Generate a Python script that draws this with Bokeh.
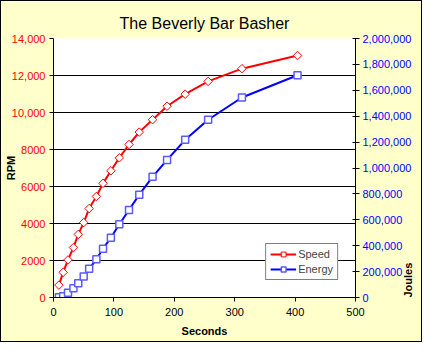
import math
from bokeh.plotting import figure
from bokeh.models import (Range1d, LinearAxis, FixedTicker, NumeralTickFormatter,
                          Legend, LegendItem)
from bokeh.embed import file_html
from bokeh.resources import INLINE

# ---- data ----
seconds = [9, 16, 24, 33, 41, 50, 59, 71, 82, 95, 109, 125, 142, 164, 188, 218, 256, 312, 404]
speed_rpm = [670, 1360, 2030, 2700, 3410, 4050, 4810, 5460, 6170, 6850, 7550, 8270,
             8940, 9610, 10340, 10990, 11680, 12370, 13080]
energy_joules = [1500, 9600, 36900, 70800, 110700, 162400, 221400, 295200, 376400, 462000,
                 565300, 676000, 794000, 932000, 1062700, 1217700, 1372700, 1544600, 1716600]

x_ticks = [0, 100, 200, 300, 400, 500]
rpm_ticks = [0, 2000, 4000, 6000, 8000, 10000, 12000, 14000]
rpm_tick_labels = ["0", "2000", "4000", "6000", "8000", "10,000", "12,000", "14,000"]
joule_ticks = [0, 200000, 400000, 600000, 800000, 1000000, 1200000, 1400000,
               1600000, 1800000, 2000000]

title_text = "The Beverly Bar Basher"
series_names = ["Speed", "Energy"]

FONT = "Liberation Sans"
BG = "#FFFFCC"

p = figure(width=422, height=342, output_backend="svg", toolbar_location=None,
           x_range=Range1d(0, 500), y_range=Range1d(0, 14000),
           min_border_left=46, min_border_right=56, min_border_top=37, min_border_bottom=46,
           background_fill_color="white", border_fill_color=BG,
           styles={"border": "1px solid black"})
p.outline_line_color = None
p.extra_y_ranges = {"energy": Range1d(0, 2000000)}

# title
p.title.text = title_text
p.title.align = "center"
p.title.text_font = FONT
p.title.text_font_size = "16px"
p.title.text_font_style = "normal"
p.title.text_color = "black"
p.title.standoff = 14

# grid
p.xgrid.visible = False
p.ygrid.ticker = FixedTicker(ticks=rpm_ticks)
p.ygrid.grid_line_color = "black"
p.ygrid.grid_line_alpha = 1.0
p.ygrid.grid_line_width = 1

# bottom axis
xa = p.xaxis[0]
xa.ticker = FixedTicker(ticks=x_ticks)
xa.axis_label = "Seconds"
xa.axis_label_text_font = FONT
xa.axis_label_text_font_size = "11px"
xa.axis_label_text_font_style = "bold"
xa.axis_label_text_color = "black"
xa.axis_label_standoff = 6
xa.major_label_text_font = FONT
xa.major_label_text_font_size = "11px"
xa.major_label_text_color = "black"
xa.major_label_standoff = 6
xa.major_tick_in = 0
xa.major_tick_out = 4
xa.minor_tick_line_color = None
xa.axis_line_color = "black"
xa.major_tick_line_color = "black"

# left axis
ya = p.yaxis[0]
ya.ticker = FixedTicker(ticks=rpm_ticks)
ya.major_label_overrides = {t: s for t, s in zip(rpm_ticks, rpm_tick_labels)}
ya.axis_label = "RPM"
ya.axis_label_text_font = FONT
ya.axis_label_text_font_size = "11px"
ya.axis_label_text_font_style = "bold"
ya.axis_label_text_color = "black"
ya.axis_label_standoff = -8
ya.major_label_text_font = FONT
ya.major_label_text_font_size = "11px"
ya.major_label_text_color = "#FF0000"
ya.major_label_standoff = 4
ya.major_tick_in = 0
ya.major_tick_out = 4
ya.minor_tick_line_color = None
ya.axis_line_color = "black"
ya.major_tick_line_color = "black"

# right axis
ra = LinearAxis(y_range_name="energy", ticker=FixedTicker(ticks=joule_ticks),
                formatter=NumeralTickFormatter(format="0,0"))
ra.major_label_text_font = FONT
ra.major_label_text_font_size = "11px"
ra.major_label_text_color = "#0000FF"
ra.major_label_standoff = 3
ra.major_tick_in = 3
ra.major_tick_out = 4
ra.minor_tick_line_color = None
ra.axis_line_color = "black"
ra.major_tick_line_color = "black"
ra.axis_label = "Joules"
ra.axis_label_text_font = FONT
ra.axis_label_text_font_size = "11px"
ra.axis_label_text_font_style = "bold"
ra.axis_label_text_color = "black"
ra.axis_label_standoff = -6
_props = ra.properties()
if "axis_label_orientation" in _props:
    ra.axis_label_orientation = math.pi / 2
if "axis_label_align" in _props:
    ra.axis_label_align = "start"
p.add_layout(ra, "right")

# series
speed_line = p.line(seconds, speed_rpm, line_color="#FF0000", line_width=2)
speed_pts = p.scatter(seconds, speed_rpm, marker="square", angle=45, angle_units="deg",
                      size=6, fill_color="white", line_color="#FF0000", line_width=1)
energy_line = p.line(seconds, energy_joules, y_range_name="energy",
                     line_color="#0000FF", line_width=2)
energy_pts = p.scatter(seconds, energy_joules, y_range_name="energy", marker="square",
                       size=7, fill_color="white", line_color="#5A5AFF", line_width=1.5)

legend = Legend(items=[LegendItem(label=series_names[0], renderers=[speed_line, speed_pts]),
                       LegendItem(label=series_names[1], renderers=[energy_line, energy_pts])],
                location="bottom_right")
legend.margin = 17
legend.border_line_color = "black"
legend.border_line_width = 1
legend.background_fill_color = "white"
legend.background_fill_alpha = 1
legend.label_text_font = FONT
legend.label_text_font_size = "11px"
legend.label_standoff = 2
legend.glyph_width = 26
legend.glyph_height = 12
legend.label_height = 12
legend.spacing = 3
legend.padding = 4
p.add_layout(legend, "center")

open("out.html", "w").write(file_html(p, INLINE))
